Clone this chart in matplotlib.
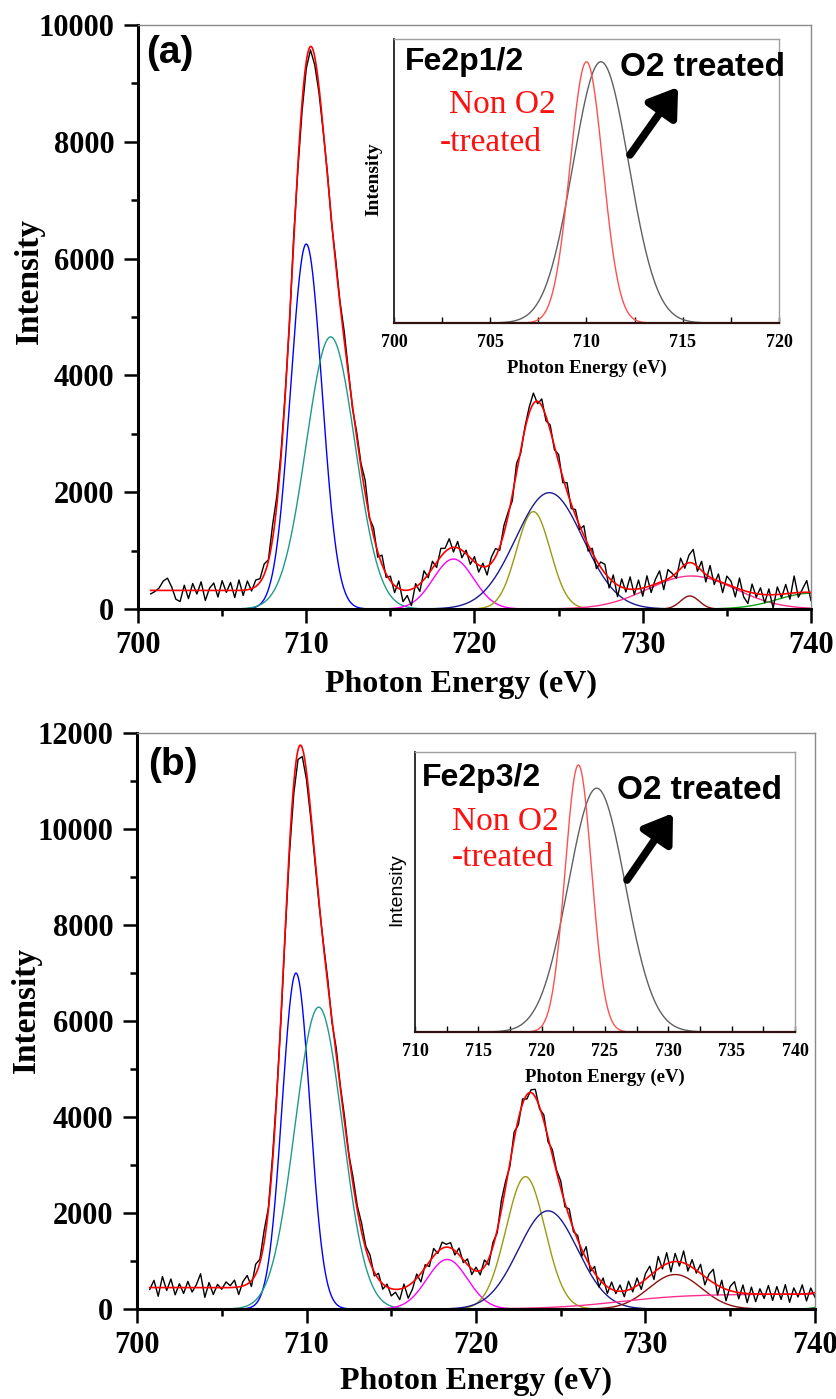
import numpy as np
import matplotlib
matplotlib.use('Agg')
import matplotlib.pyplot as plt
from matplotlib.ticker import MultipleLocator

plt.rcParams['font.family'] = 'Liberation Serif'
plt.rcParams['font.weight'] = 'bold'
plt.rcParams['axes.labelweight'] = 'bold'

# ---- panel (a): fitted components (blue, teal, magenta, olive, navy, pink, brown, green)
cen_a = [710.0, 711.45, 718.75, 723.5, 724.45, 732.9, 732.8, 740.0]
hgt_a = [6250, 4660, 856, 1667, 1992, 565, 223, 270]
sig_a = [0.93, 1.45, 1.2, 1.0, 2.0, 2.6, 0.55, 2.0]
col_a = ['#0000ff', '#1f9a8a', '#ff00ff', '#9a9a10', '#1a1a90', '#ff2d8f', '#8b1010', '#10a010']
bg_a = (320, 719.0, 3.5)   # background step: height, centre, width

# ---- panel (b): blue, teal, magenta, olive, navy, brown, green (+ pink step)
cen_b = [709.38, 710.72, 718.3, 722.92, 724.25, 731.75, 741.5]
hgt_b = [7000, 6290, 1033, 2759, 2046, 719, 200]
sig_b = [0.82, 1.4, 1.2, 1.15, 1.75, 1.55, 0.8]
col_b = ['#0000ff', '#1f9a8a', '#ff00ff', '#9a9a10', '#1a1a90', '#8b1010', '#10a010']
pink_b = (310, 728.5, 2.0)
bg_b = (450, 719.0, 3.5)

resid_a = [-60, -20, 40, 160, 210, 60, -150, -190, 90, -140, 120, -60, 150, -170, 40, 130, -110, 170, -30, 140,
           -120, 180, -90, 150, -40,
           110, 60, 180, 20, 240, 150, 90,
           40, -60, 80, -80, -150, -120, -60, -140,
           -100, -40, 60, -30, 80, 40, 150, 60, -40, 90,
           60, 220, -30, 140, -90, 160, -60, 80,
           -120, 130, -200, -90, -280, 60, -130, 150,
           -60, 120, -90, 140, 60, 170, -80, 110, -130, 60, -110, 90,
           -120, 60, -150, 100, 140, -60, 130, 60,
           -100, 150, -60, 40, 100, 180, -40, 120, -80, 90, -60, 130,
           -90, 150, -80, 100, -60, 170, -110, 80,
           -140, 90, 150, -170, 120, -200, 140, -60, 210, -90, 150, -140,
           190, -120, 80, 200, -150, 160, 50, -90, 180, -60, 130, 240,
           -80, 160, -130, 200, -90, 120, -170, 140, 80, -160, 190, -110,
           -200, 150, -60, 110, -140, 100, -230, 130, -60, 160, -100, 290, -80, 60, 200, -140]
resid_b = [-40, 150, -180, 230, -60, 180, -150, 80, -120, 130, -90, 60, 290, -200, 110, -140, 70, -30, 120, 40,
           150, -160, 90, 180, -120,
           210, 70, 250, 40, 120, 60, -80,
           -100, -150, -220, -200, -180, -160, -120, -60,
           -40, 40, 100, -60, 140, 60, 120, 20, 150, 90,
           180, 60, 150, -80, 120, -110, 60, -150,
           -60, -220, 80, -260, -140, 90, -180, 60,
           -100, 160, -40, 130, 60, 110, -90, 140, -60, 120, -120, 80,
           -90, 140, -130, 90, -60, 200, 120, -80,
           150, -120, 100, -90, 60, 160, -40, 130, -90, 110, 40, 150,
           -80, 160, -60, 90, -130, 250, -100, 140,
           -170, 110, -140, 150, -60, 130, -120, 180, -80, 160, -140, 120,
           200, -150, 260, -60, 230, -200, 170, -90, 250, -130, 160, -60,
           190, -170, 120, 280, -200, 150, -240, 90, 210, -130, 170, -190,
           140, -160, 110, -90, 180, -130, 160, -110, 200, -170, 130, -60, 190, -150, 110, -100]

# insets: normalised single peaks (non-treated red, O2 treated gray)
ins_a = {'cen': [710.0, 710.75], 'sig': [0.85, 1.45], 'hgt': [0.92, 0.92]}
ins_b = {'cen': [722.9, 724.35], 'sig': [1.05, 2.25], 'hgt': [0.954, 0.871]}


def gauss(e, c, h, s):
    return h * np.exp(-0.5 * ((e - c) / s) ** 2)


def fall(e, p):
    h, c, w = p
    return h / (1 + np.exp((e - c) / w))


def rise(e, p):
    h, c, w = p
    return h / (1 + np.exp(-(e - c) / w))


def model(e, cen, hgt, sig, bg, step=None):
    tot = fall(e, bg)
    for c, h, s in zip(cen, hgt, sig):
        tot = tot + gauss(e, c, h, s)
    if step is not None:
        tot = tot + rise(e, step)
    return tot


def style_main(ax, ymax):
    ax.set_xlim(700, 740)
    ax.set_ylim(0, ymax)
    ax.xaxis.set_major_locator(MultipleLocator(10))
    ax.xaxis.set_minor_locator(MultipleLocator(5))
    ax.yaxis.set_major_locator(MultipleLocator(2000))
    ax.yaxis.set_minor_locator(MultipleLocator(1000))
    for s in ['left', 'bottom']:
        ax.spines[s].set_linewidth(2.2)
        ax.spines[s].set_color('black')
    for s in ['top', 'right']:
        ax.spines[s].set_linewidth(1.0)
        ax.spines[s].set_color('#8a8a8a')
    ax.tick_params(which='major', direction='out', length=10, width=1.8, labelsize=22, pad=6)
    ax.tick_params(which='minor', direction='out', length=5, width=1.8)
    ax.tick_params(axis='y', which='major', pad=7)
    ax.set_xlabel('Photon Energy (eV)', fontsize=23)
    ax.set_ylabel('Intensity', fontsize=24)


def draw_main(ax, cen, hgt, sig, cols, bg, resid, step=None, step_col=None):
    ef = np.linspace(700.75, 740, 1500)
    for c, h, s, col in zip(cen, hgt, sig, cols):
        ax.plot(ef, gauss(ef, c, h, s), color=col, lw=1.0)
    if step is not None:
        ax.plot(ef, rise(ef, step), color=step_col, lw=1.0)
    ed = 700.75 + 0.25 * np.arange(len(resid))
    meas = model(ed, cen, hgt, sig, bg, step) + np.array(resid)
    ax.plot(ed, meas, color='black', lw=1.0)
    ax.plot(ef, model(ef, cen, hgt, sig, bg, step), color='#ff0000', lw=1.2)


def draw_inset(ax, ins, xr, ylab_font):
    e = np.linspace(xr[0], xr[1], 800)
    ax.plot(e, gauss(e, ins['cen'][1], ins['hgt'][1], ins['sig'][1]), color='#606060', lw=1.0)
    ax.plot(e, gauss(e, ins['cen'][0], ins['hgt'][0], ins['sig'][0]), color='#ff5050', lw=1.0)
    ax.set_xlim(xr)
    ax.set_ylim(0, 1.0)
    ax.set_yticks([])
    ax.xaxis.set_major_locator(MultipleLocator(5))
    ax.xaxis.set_minor_locator(MultipleLocator(2.5))
    ax.tick_params(which='both', direction='in', length=4, width=1.0, labelsize=13, pad=8)
    ax.spines['left'].set_color('#202020')
    ax.spines['left'].set_linewidth(1.3)
    ax.spines['bottom'].set_color('#301010')
    ax.spines['bottom'].set_linewidth(1.6)
    for s in ['top', 'right']:
        ax.spines[s].set_color('#a0a0a0')
        ax.spines[s].set_linewidth(1.0)
    ax.set_xlabel('Photon Energy (eV)', fontsize=13.5)
    ax.xaxis.set_label_coords(0.5, -0.13)
    ax.set_ylabel('Intensity', **ylab_font)


def inset_text(ax, title, pos):
    sans = ['Liberation Sans', 'DejaVu Sans']
    ax.text(pos['t'][0], pos['t'][1], title, transform=ax.transAxes, family=sans,
            weight='bold', fontsize=23, va='center', ha='left')
    ax.text(pos['n'][0], pos['n'][1], 'Non O2', transform=ax.transAxes, color='#ff1010',
            weight='normal', fontsize=24, va='center', ha='left')
    ax.text(pos['d'][0], pos['d'][1], '-treated', transform=ax.transAxes, color='#ff1010',
            weight='normal', fontsize=24, va='center', ha='left')
    ax.text(pos['o'][0], pos['o'][1], 'O2 treated', transform=ax.transAxes, family=sans,
            weight='bold', fontsize=24, va='center', ha='left')
    ax.annotate('', xy=pos['tip'], xytext=pos['tail'], xycoords='axes fraction',
                arrowprops=dict(arrowstyle='-|>,head_width=0.5,head_length=0.75', color='black',
                                lw=5.5, mutation_scale=22, shrinkA=0, shrinkB=0))


fig = plt.figure(figsize=(8.37, 13.99), dpi=100)

# panel (a)
ax1 = fig.add_axes([0.1649, 0.5647, 0.804, 0.4174])
draw_main(ax1, cen_a, hgt_a, sig_a, col_a, bg_a, resid_a)
style_main(ax1, 10000)
ax1.yaxis.set_label_coords(-0.138, 0.562)
ax1.xaxis.set_label_coords(0.48, -0.104)
ax1.text(0.012, 0.952, '(a)', transform=ax1.transAxes, family=['Liberation Sans', 'DejaVu Sans'],
         weight='bold', fontsize=28, va='center', ha='left')

in1 = fig.add_axes([0.4707, 0.7691, 0.46, 0.2030])
draw_inset(in1, ins_a, (700, 720), dict(fontsize=14, weight='bold'))
in1.yaxis.set_label_coords(-0.029, 0.507)
inset_text(in1, 'Fe2p1/2', {'t': (0.029, 0.919), 'n': (0.143, 0.768), 'd': (0.119, 0.634),
                            'o': (0.587, 0.901), 'tail': (0.613, 0.592), 'tip': (0.738, 0.831)})

# panel (b)
ax2 = fig.add_axes([0.1637, 0.0643, 0.810, 0.4117])
draw_main(ax2, cen_b, hgt_b, sig_b, col_b, bg_b, resid_b, pink_b, '#ff2d8f')
style_main(ax2, 12000)
ax2.yaxis.set_label_coords(-0.140, 0.519)
ax2.xaxis.set_label_coords(0.50, -0.10)
ax2.text(0.016, 0.944, '(b)', transform=ax2.transAxes, family=['Liberation Sans', 'DejaVu Sans'],
         weight='bold', fontsize=28, va='center', ha='left')

in2 = fig.add_axes([0.4958, 0.2623, 0.454, 0.2001])
draw_inset(in2, ins_b, (710, 740), dict(fontsize=14, weight='normal',
                                        family=['Liberation Sans', 'DejaVu Sans']))
in2.yaxis.set_label_coords(-0.026, 0.507)
inset_text(in2, 'Fe2p3/2', {'t': (0.018, 0.907), 'n': (0.097, 0.75), 'd': (0.097, 0.621),
                            'o': (0.532, 0.864), 'tail': (0.558, 0.543), 'tip': (0.679, 0.782)})

fig.savefig('out.png', dpi=100)
